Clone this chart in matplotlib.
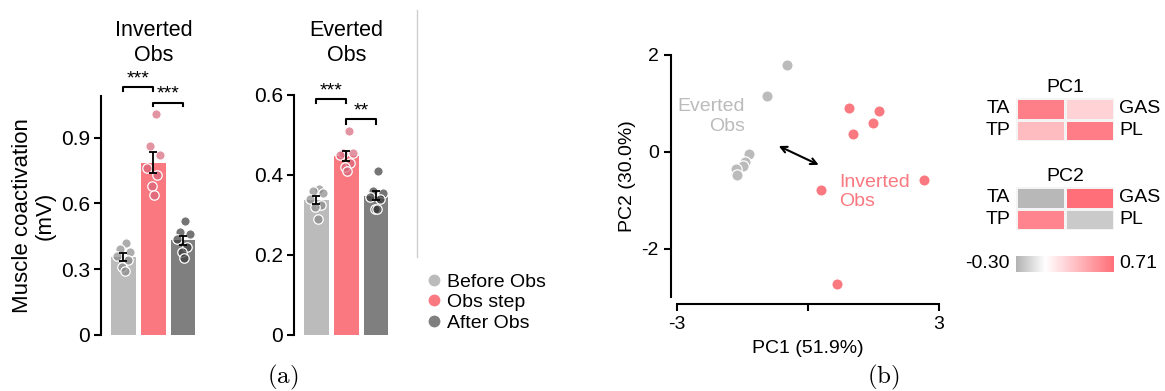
import numpy as np
import matplotlib
matplotlib.use("Agg")
import matplotlib.pyplot as plt
from matplotlib.colors import LinearSegmentedColormap, TwoSlopeNorm, to_rgba
from matplotlib.lines import Line2D

plt.rcParams['font.family'] = ['Liberation Sans', 'DejaVu Sans']
plt.rcParams['mathtext.fontset'] = 'cm'

# ---------------- data ----------------
conditions = ['Before Obs', 'Obs step', 'After Obs']

# per-subject muscle coactivation (mV)
inverted_before = [0.42, 0.39, 0.38, 0.36, 0.34, 0.31, 0.29]
inverted_obs = [1.01, 0.86, 0.82, 0.76, 0.73, 0.68, 0.64]
inverted_after = [0.52, 0.47, 0.46, 0.44, 0.40, 0.38, 0.35]

everted_before = [0.365, 0.36, 0.355, 0.34, 0.325, 0.32, 0.29]
everted_obs = [0.51, 0.455, 0.455, 0.45, 0.43, 0.42, 0.41]
everted_after = [0.41, 0.36, 0.355, 0.345, 0.34, 0.315, 0.315]

inverted_sig = ['***', '***']
everted_sig = ['***', '**']

# PCA scores
everted_pc1 = [-0.47, -0.95, -1.34, -1.44, -1.48, -1.65, -1.63]
everted_pc2 = [1.79, 1.16, -0.04, -0.22, -0.30, -0.36, -0.48]
inverted_pc1 = [0.95, 1.63, 1.49, 1.04, 2.66, 0.30, 0.67]
inverted_pc2 = [0.91, 0.84, 0.59, 0.36, -0.59, -0.78, -2.73]

# PC loadings, laid out as [[TA, GAS], [TP, PL]]
pc1_loadings = [[0.63, 0.22], [0.33, 0.64]]
pc2_loadings = [[-0.28, 0.71], [0.60, -0.21]]
loading_min, loading_max = -0.30, 0.71

# ---------------- style ----------------
bar_colors = ['#bbbbbb', '#fa7880', '#7f7f7f']
dot_colors = ['#8a8a8a', '#d8677b', '#3a3a3a']
pink = '#fa7880'
gray = '#bbbbbb'

W, H = 1165, 391
fig = plt.figure(figsize=(W / 100, H / 100), dpi=100)


def box(x0, y0, x1, y1):
    return [x0 / W, 1 - y1 / H, (x1 - x0) / W, (y1 - y0) / H]


def pt(x, y):
    return (x / W, 1 - y / H)


jitter = np.array([0.08, -0.12, 0.22, -0.22, 0.14, -0.04, 0.04])
BAR_W = 0.83


def bar_panel(ax, groups, ylim, yticks, yticklabels, sig, br_levels, leg):
    x = np.arange(3)
    means = [np.mean(g) for g in groups]
    sems = [np.std(g, ddof=1) / np.sqrt(len(g)) for g in groups]
    ax.bar(x, means, width=BAR_W, color=bar_colors, zorder=1)
    for i, g in enumerate(groups):
        ax.scatter(x[i] + jitter[:len(g)], g, s=46,
                   facecolor=to_rgba(dot_colors[i], 0.7),
                   edgecolor='white', linewidth=0.9, zorder=2)
    ax.errorbar(x, means, yerr=sems, fmt='none', ecolor='black',
                elinewidth=1.3, capsize=3, capthick=1.3, zorder=3)
    ax.set_xlim(-0.75, 2.6)
    ax.set_ylim(*ylim)
    ax.set_xticks([])
    ax.set_yticks(yticks)
    ax.set_yticklabels(yticklabels)
    for s in ['top', 'right', 'bottom']:
        ax.spines[s].set_visible(False)
    ax.spines['left'].set_linewidth(1.5)
    ax.tick_params(axis='y', length=5, width=1.5, labelsize=15, pad=3)
    for k, (a, b) in enumerate([(0, 1), (1, 2)]):
        y = br_levels[k]
        ax.plot([a, a, b, b], [y - leg, y, y, y - leg], color='black',
                lw=1.5, clip_on=False, zorder=4)
        ax.text((a + b) / 2, y, sig[k], ha='center', va='bottom',
                fontsize=14, clip_on=False)


# ---------------- (a) inverted ----------------
ax1 = fig.add_axes(box(101, 96, 201, 335))
bar_panel(ax1, [inverted_before, inverted_obs, inverted_after], (0, 1.09),
          [0, 0.3, 0.6, 0.9], ['0', '0.3', '0.6', '0.9'], inverted_sig,
          [1.13, 1.06], 0.016)
ax1.set_ylabel('Muscle coactivation\n(mV)', fontsize=16, labelpad=4,
               linespacing=1.1)
fig.text(*pt(153.5, 43), 'Inverted\nObs', ha='center', va='center',
         fontsize=15.5, linespacing=1.2)

# ---------------- (a) everted ----------------
ax2 = fig.add_axes(box(294, 95, 394, 335))
bar_panel(ax2, [everted_before, everted_obs, everted_after], (0, 0.6),
          [0, 0.2, 0.4, 0.6], ['0', '0.2', '0.4', '0.6'], everted_sig,
          [0.59, 0.539], 0.011)
fig.text(*pt(346.5, 43), 'Everted\nObs', ha='center', va='center',
         fontsize=15.5, linespacing=1.2)

# separator
fig.add_artist(Line2D([417 / W, 417 / W], [1 - 10 / H, 1 - 257 / H],
                      color='#cfcfcf', lw=1))

# legend
handles = [Line2D([], [], marker='o', ls='none', markersize=8.5,
                  markerfacecolor=c, markeredgecolor='none')
           for c in bar_colors]
fig.legend(handles, conditions, loc='upper left', bbox_to_anchor=pt(426, 273),
           frameon=False, fontsize=14, handlelength=0.8, handletextpad=0.3,
           labelspacing=0.15, borderpad=0, borderaxespad=0)

fig.text(*pt(283, 377), r'$\mathrm{(a)}$', ha='center', va='center',
         fontsize=18)
fig.text(*pt(883, 377), r'$\mathrm{(b)}$', ha='center', va='center',
         fontsize=18)

# ---------------- (b) PCA scatter ----------------
ax3 = fig.add_axes(box(677, 55, 939, 297))
ax3.scatter(everted_pc1, everted_pc2, s=66, color=gray, edgecolor='white',
            linewidth=0.9, zorder=2)
ax3.scatter(inverted_pc1, inverted_pc2, s=66, color=pink, edgecolor='white',
            linewidth=0.9, zorder=2)
ax3.set_xlim(-3, 3)
ax3.set_ylim(-3, 2)
ax3.set_xticks([-3, 0, 3])
ax3.set_xticklabels(['-3', '', '3'])
ax3.set_yticks([-2, 0, 2])
ax3.set_yticklabels(['-2', '0', '2'])
for s in ['top', 'right']:
    ax3.spines[s].set_visible(False)
ax3.spines['left'].set_position(('outward', 4.5))
ax3.spines['bottom'].set_position(('outward', 5))
ax3.spines['left'].set_bounds(-3, 2)
ax3.spines['bottom'].set_bounds(-3, 3)
for s in ['left', 'bottom']:
    ax3.spines[s].set_linewidth(1.5)
ax3.tick_params(length=5, width=1.5, labelsize=14)
ax3.set_xlabel('PC1 (51.9%)', fontsize=14, labelpad=5)
ax3.set_ylabel('PC2 (30.0%)', fontsize=14, labelpad=4)
ax3.text(-1.44, 0.73, 'Everted\nObs', color=gray, ha='right', va='center',
         fontsize=14, linespacing=1.2)
ax3.text(0.72, -0.83, 'Inverted\nObs', color=pink, ha='left', va='center',
         fontsize=14, linespacing=1.2)
ax3.annotate('', xy=(0.245, -0.27), xytext=(-0.67, 0.12),
             arrowprops=dict(arrowstyle='<->', color='black', lw=1.5,
                             mutation_scale=11, shrinkA=0, shrinkB=0))

# ---------------- loadings heatmaps ----------------
cmap = LinearSegmentedColormap.from_list('gw_pink',
                                         ['#b3b3b3', '#ffffff', '#ff6f79'])
norm = TwoSlopeNorm(vmin=loading_min, vcenter=0, vmax=loading_max)


def heat(ax, vals, title):
    ax.pcolormesh(np.array(vals)[::-1], cmap=cmap, norm=norm,
                  edgecolor='#f4f4f4', linewidth=0.8)
    ax.set_xlim(0, 2)
    ax.set_ylim(0, 2)
    ax.axis('off')
    ax.text(-0.06, 0.75, 'TA', transform=ax.transAxes, ha='right',
            va='center', fontsize=14)
    ax.text(-0.06, 0.25, 'TP', transform=ax.transAxes, ha='right',
            va='center', fontsize=14)
    ax.text(1.05, 0.75, 'GAS', transform=ax.transAxes, ha='left',
            va='center', fontsize=14)
    ax.text(1.05, 0.25, 'PL', transform=ax.transAxes, ha='left',
            va='center', fontsize=14)
    ax.text(0.5, 1.04, title, transform=ax.transAxes, ha='center',
            va='bottom', fontsize=14)


ax4 = fig.add_axes(box(1016, 98, 1114, 141))
heat(ax4, pc1_loadings, 'PC1')
ax5 = fig.add_axes(box(1016, 187, 1114, 230))
heat(ax5, pc2_loadings, 'PC2')

ax6 = fig.add_axes(box(1016, 256, 1114, 272))
grad = np.linspace(loading_min, loading_max, 256)[None, :]
ax6.imshow(grad, cmap=cmap, norm=norm, aspect='auto',
           extent=[loading_min, loading_max, 0, 1])
ax6.axis('off')
ax6.text(-0.06, 0.5, f'{loading_min:.2f}', transform=ax6.transAxes,
         ha='right', va='center', fontsize=14)
ax6.text(1.05, 0.5, f'{loading_max:.2f}', transform=ax6.transAxes,
         ha='left', va='center', fontsize=14)

fig.savefig('out.png', dpi=100)
